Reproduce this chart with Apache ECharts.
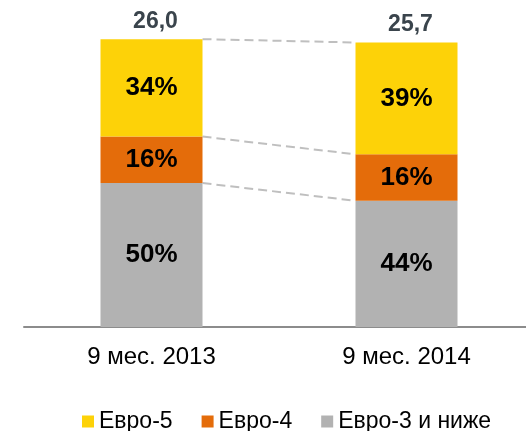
<!DOCTYPE html>
<html>
<head>
<meta charset="utf-8">
<script src="https://cdn.jsdelivr.net/npm/echarts@6/dist/echarts.min.js"></script>
<style>
  html, body { margin: 0; padding: 0; background: #fff; }
  #chart { width: 526px; height: 431px; }
</style>
</head>
<body>
<div id="chart"></div>
<script>
// --- данные ---
const categories = ['9 мес. 2013', '9 мес. 2014']
const totals = [26.0, 25.7]
const euro3 = [13.0, 11.4]   // Евро-3 и ниже
const euro4 = [4.2, 4.2]     // Евро-4
const euro5 = [8.8, 10.1]    // Евро-5
const share3 = [50, 44]
const share4 = [16, 16]
const share5 = [34, 39]

const FONT = 'Arial, "Liberation Sans", sans-serif'
const BAR_RATIO = 0.4

// границы сегментов для пунктирных линий: [x0, y0, x1, y1]
const levels = [
  euro3,
  euro3.map((v, i) => v + euro4[i]),
  euro3.map((v, i) => v + euro4[i] + euro5[i])
]
const connectors = levels.map(l => [0, l[0], 1, l[1]])

const pctLabel = (arr) => ({
  show: true,
  position: 'inside',
  formatter: p => arr[p.dataIndex] + '%',
  color: '#000',
  fontSize: 26,
  fontWeight: 'bold',
  fontFamily: FONT
})

const chart = echarts.init(document.getElementById('chart'))

chart.setOption({
  backgroundColor: '#fff',
  animation: false,
  grid: { left: 24, width: 510, top: 17, bottom: 104, outerBoundsMode: 'none' },
  legend: {
    data: ['Евро-5', 'Евро-4', 'Евро-3 и ниже'],
    left: 77,
    top: 405,
    icon: 'rect',
    itemWidth: 12,
    itemHeight: 12,
    itemGap: 29,
    textStyle: { color: '#000', fontSize: 23, fontFamily: FONT }
  },
  xAxis: {
    type: 'category',
    data: categories,
    axisLine: { lineStyle: { color: '#8C8C8C', width: 2 } },
    axisTick: { show: false },
    axisLabel: { color: '#000', fontSize: 24, fontFamily: FONT, margin: 18 }
  },
  yAxis: { type: 'value', min: 0, max: 28, show: false },
  series: [
    {
      name: 'Евро-3 и ниже', type: 'bar', stack: 'total', data: euro3,
      barWidth: '40%',
      itemStyle: { color: '#B2B2B2' },
      label: pctLabel(share3)
    },
    {
      name: 'Евро-4', type: 'bar', stack: 'total', data: euro4,
      itemStyle: { color: '#E46C0A' },
      label: pctLabel(share4)
    },
    {
      name: 'Евро-5', type: 'bar', stack: 'total', data: euro5,
      itemStyle: { color: '#FDD208' },
      label: pctLabel(share5)
    },
    {
      // подписи итогов над столбцами
      name: 'total', type: 'bar', stack: 'total', data: totals.map(() => 0),
      itemStyle: { color: 'transparent' },
      label: {
        show: true,
        position: 'top',
        distance: 6,
        offset: [4, 0],
        formatter: p => totals[p.dataIndex].toFixed(1).replace('.', ','),
        color: '#3A444C',
        fontSize: 23,
        fontWeight: 'bold',
        fontFamily: FONT
      }
    },
    {
      // пунктирные соединители
      type: 'custom',
      data: connectors,
      encode: { x: [0, 2], y: [1, 3] },
      silent: true,
      z: 1,
      renderItem: (params, api) => {
        const half = api.size([1, 0])[0] * BAR_RATIO / 2
        const a = api.coord([api.value(0), api.value(1)])
        const b = api.coord([api.value(2), api.value(3)])
        return {
          type: 'line',
          shape: { x1: a[0] + half, y1: a[1], x2: b[0] - half, y2: b[1] },
          style: { stroke: '#BFBFBF', lineWidth: 2, lineDash: [9, 5] }
        }
      }
    }
  ]
})

window.addEventListener('resize', () => chart.resize())
</script>
</body>
</html>
